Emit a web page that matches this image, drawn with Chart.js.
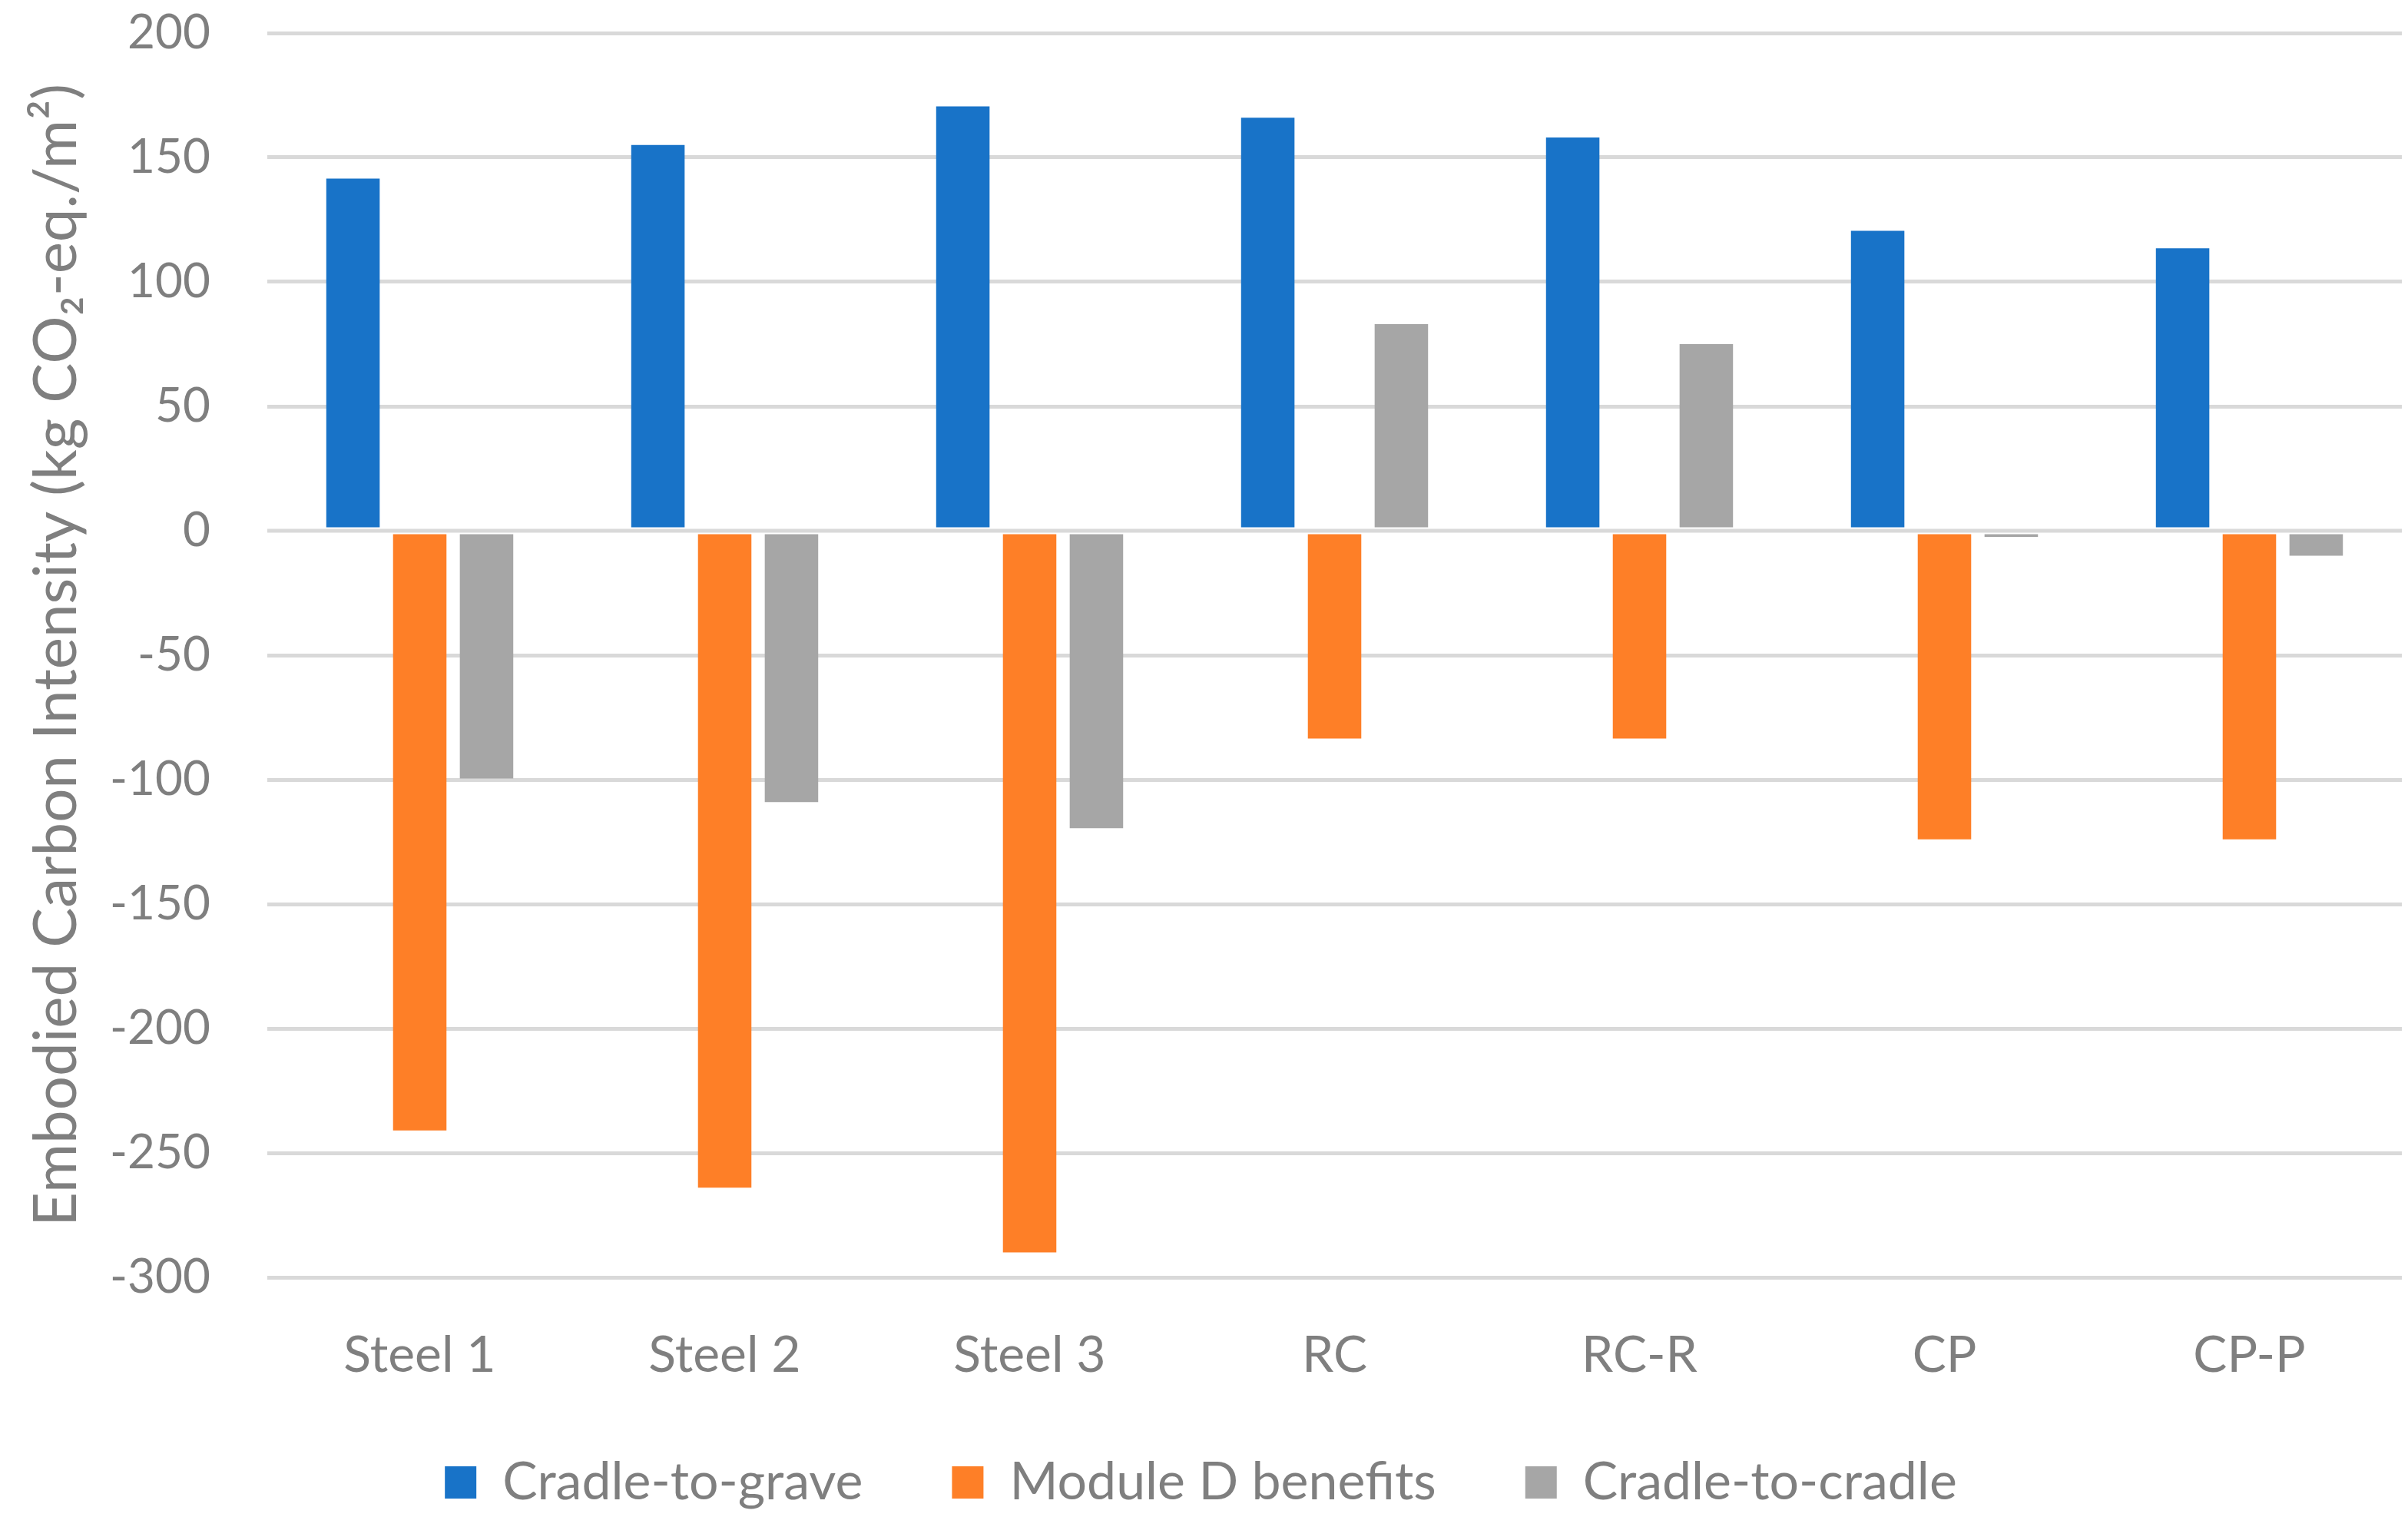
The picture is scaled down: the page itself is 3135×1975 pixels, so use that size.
<!DOCTYPE html>
<html>
<head>
<meta charset="utf-8">
<script src="https://cdn.jsdelivr.net/npm/chart.js@4.4.1/dist/chart.umd.min.js"></script>
<style>
  html, body { margin: 0; padding: 0; background: #fff; }
  canvas { display: block; }
</style>
</head>
<body>
<canvas id="myBarChart" width="3135" height="1975" style="width:3135px;height:1975px"></canvas>
<script>
const categories = ['Steel 1', 'Steel 2', 'Steel 3', 'RC', 'RC-R', 'CP', 'CP-P'];
const cradleToGrave = [141.5, 155, 170.5, 166, 158, 120.5, 113.5];
const moduleD = [-241, -264, -290, -83.5, -83.5, -124, -124];
const cradleToCradle = [-99.5, -109, -119.5, 83, 75, -2.5, -10];
const yTicks = [200, 150, 100, 50, 0, -50, -100, -150, -200, -250, -300];

const textColor = '#7f7f7f';
const gridColor = '#d9d9d9';
const fontFamily = 'Lato, "Open Sans", sans-serif';

// axis line at zero is drawn over the bars, like in the original
const zeroLine = {
    id: 'zeroLine',
    afterLayout(chart) {
        // let the category labels run into the legend band without being clipped
        chart.scales.x.bottom = chart.height;
    },
    afterDatasetsDraw(chart) {
        const { ctx, chartArea, scales } = chart;
        const y = scales.y.getPixelForValue(0);
        ctx.save();
        ctx.strokeStyle = '#ffffff';
        ctx.lineWidth = 9;
        ctx.beginPath();
        ctx.moveTo(chartArea.left, y);
        ctx.lineTo(chartArea.right, y);
        ctx.stroke();
        ctx.strokeStyle = gridColor;
        ctx.lineWidth = 5;
        ctx.beginPath();
        ctx.moveTo(chartArea.left, y);
        ctx.lineTo(chartArea.right, y);
        ctx.stroke();
        ctx.restore();
    }
};

const ctx = document.getElementById('myBarChart').getContext('2d');
const myBarChart = new Chart(ctx, {
    type: 'bar',
    data: {
        labels: categories,
        datasets: [
            { label: 'Cradle-to-grave', data: cradleToGrave, backgroundColor: '#1873c8' },
            { label: 'Module D benefits', data: moduleD, backgroundColor: '#fe7f27' },
            { label: 'Cradle-to-cradle', data: cradleToCradle, backgroundColor: '#a6a6a6' },
        ],
    },
    options: {
        responsive: false,
        devicePixelRatio: 1,
        animation: false,
        categoryPercentage: 0.657,
        barPercentage: 0.8,
        layout: { padding: { top: 43, right: 8, bottom: 1, left: 0 } },
        plugins: {
            tooltip: { enabled: false },
            legend: {
                position: 'bottom',
                labels: {
                    color: textColor,
                    font: { family: fontFamily, size: 68 },
                    boxWidth: 41,
                    boxHeight: 42,
                    padding: 116,
                },
            },
        },
        scales: {
            x: {
                grid: { display: false },
                border: { display: false },
                ticks: {
                    color: textColor,
                    font: { family: fontFamily, size: 66 },
                    padding: 54,
                    maxRotation: 0,
                },
                afterFit(scale) { scale.height = 117; },
            },
            y: {
                min: -300,
                max: 200,
                afterBuildTicks(scale) {
                    scale.ticks = yTicks.map(v => ({ value: v }));
                },
                grid: { color: gridColor, lineWidth: 5, drawTicks: false },
                border: { display: false },
                ticks: {
                    color: textColor,
                    font: { family: fontFamily, size: 62 },
                    padding: 74,
                },
                title: {
                    display: true,
                    text: 'Embodied Carbon Intensity (kg CO₂-eq./m²)',
                    color: textColor,
                    font: { family: fontFamily, size: 78, weight: 'normal' },
                    padding: { top: 27, bottom: 0 },
                },
                afterFit(scale) {
                    scale.width = 348;
                    scale.paddingTop = 37;
                    scale.paddingBottom = 37;
                },
            },
        },
    },
    plugins: [zeroLine],
});
</script>
</body>
</html>
